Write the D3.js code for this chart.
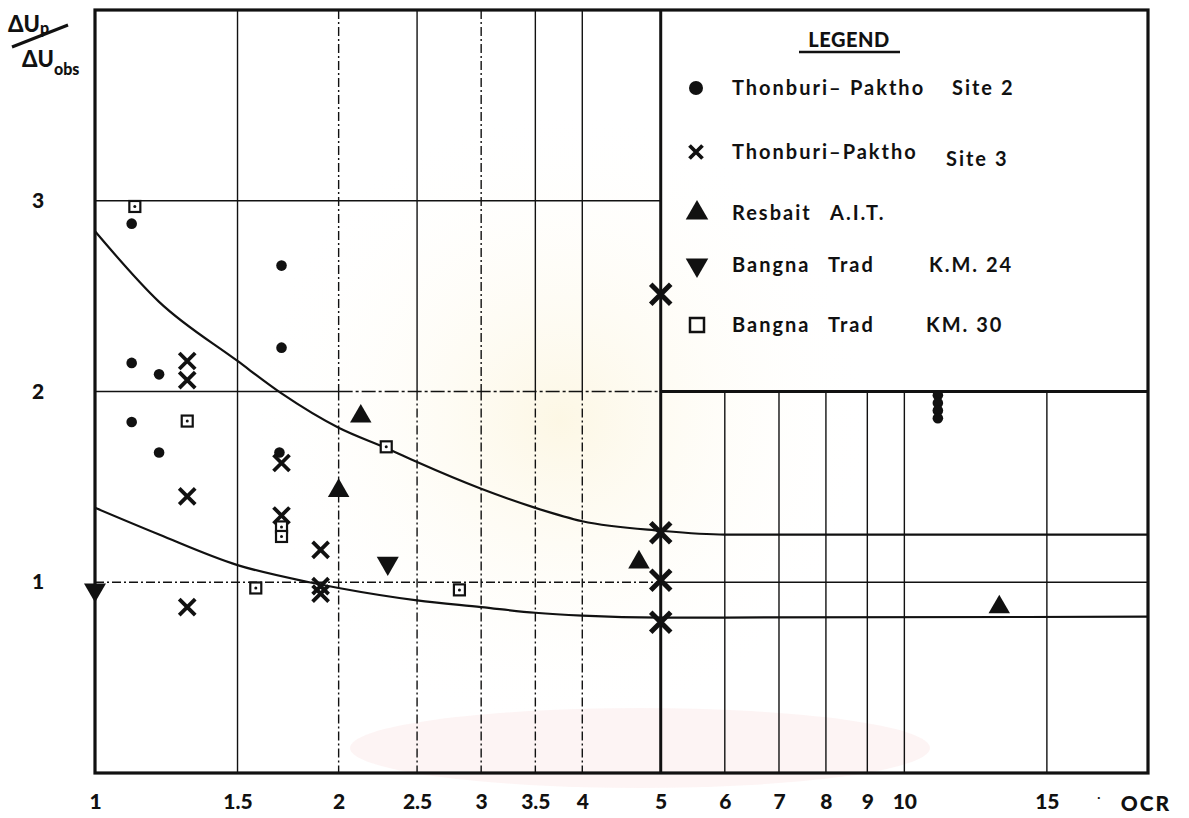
<!DOCTYPE html>
<html>
<head>
<meta charset="utf-8">
<script src="https://cdn.jsdelivr.net/npm/d3@7"></script>
<style>
  body { margin: 0; background: #fff; }
  svg { display: block; font-family: Lato, "DejaVu Sans", sans-serif; }
</style>
</head>
<body>
<svg id="chart" width="1189" height="818"></svg>
<script>
// OCR tick values (log axis) and y ticks
const xTicks = [1, 1.5, 2, 2.5, 3, 3.5, 4, 5, 6, 7, 8, 9, 10, 15]
const yTicks = [1, 2, 3]

// data points [OCR, dUp/dUobs]
const site2 = [[1.11, 2.88], [1.11, 2.15], [1.11, 1.84], [1.2, 2.09], [1.2, 1.68],
  [1.7, 2.66], [1.7, 2.23], [1.69, 1.68], [11, 1.98], [11, 1.94], [11, 1.9], [11, 1.86]]
const site3 = [[1.3, 2.16], [1.3, 2.06], [1.3, 1.45], [1.3, 0.87], [1.7, 1.625], [1.7, 1.35],
  [1.9, 1.17], [1.9, 0.98], [1.9, 0.94], [5, 2.51], [5, 1.26], [5, 1.01], [5, 0.79]]
const resbait = [[2.0, 1.48], [2.13, 1.87], [4.7, 1.105], [13.1, 0.87]]
const km24 = [[1.0, 0.96], [2.3, 1.1]]
const km30 = [[1.12, 2.97], [1.3, 1.845], [1.7, 1.29], [1.7, 1.24], [1.58, 0.97], [2.29, 1.71], [2.82, 0.96]]

// fitted envelope curves
const upperCurve = [[1, 2.84], [1.2, 2.47], [1.5, 2.16], [1.7, 1.99], [2, 1.81], [2.3, 1.7], [2.5, 1.63],
  [3, 1.49], [3.5, 1.39], [4, 1.32], [5, 1.27], [6, 1.25], [20, 1.25]]
const lowerCurve = [[1, 1.39], [1.2, 1.25], [1.5, 1.09], [1.84, 1.0], [2, 0.97], [2.5, 0.905], [3, 0.87],
  [3.5, 0.84], [4, 0.825], [5, 0.815], [6, 0.815], [20, 0.82]]

// legend words, per row
const legendRows = [
  ["Thonburi\u2013", "Paktho", "Site 2"],
  ["Thonburi\u2013Paktho", "", "Site 3"],
  ["Resbait", "A.I.T.", ""],
  ["Bangna", "Trad", "K.M. 24"],
  ["Bangna", "Trad", "KM. 30"]
]

const pL = 95, pR = 1148, pT = 10, pB = 773
const ink = "#111"

const svg = d3.select("#chart")

const x = d3.scaleLog().domain([1, 20]).range([pL, pR])
const y = d3.scaleLinear().domain([0, 4]).range([pB, pT])

// faint watermark of the scanned page
const defs = svg.append("defs")
const rg = defs.append("radialGradient").attr("id", "wm")
rg.append("stop").attr("offset", "0%").attr("stop-color", "#fcf5de").attr("stop-opacity", 0.8)
rg.append("stop").attr("offset", "100%").attr("stop-color", "#fff").attr("stop-opacity", 0)
svg.append("circle").attr("cx", 560).attr("cy", 420).attr("r", 320).attr("fill", "url(#wm)")
svg.append("ellipse").attr("cx", 640).attr("cy", 748).attr("rx", 290).attr("ry", 40)
  .attr("fill", "#fcf0f0").attr("opacity", 0.7)

const grid = svg.append("g").attr("stroke", ink).attr("fill", "none")

// vertical grid lines, split at y = 2 (legend box bottom)
const dashDot = "9,3,2,3"
xTicks.slice(1).forEach(v => {
  const gx = x(v)
  if (v === 5) {
    grid.append("line").attr("x1", gx).attr("x2", gx).attr("y1", pT).attr("y2", pB).attr("stroke-width", 3)
    return
  }
  if (v < 5) {
    grid.append("line").attr("x1", gx).attr("x2", gx).attr("y1", pT).attr("y2", y(2))
      .attr("stroke-width", 1.4)
      .attr("stroke-dasharray", (v === 2 || v === 3) ? dashDot : null)
  }
  grid.append("line").attr("x1", gx).attr("x2", gx).attr("y1", y(2)).attr("y2", pB)
    .attr("stroke-width", 1.4)
    .attr("stroke-dasharray", v === 1.5 ? null : (v < 5 ? dashDot : null))
})

// horizontal grid lines
grid.append("line").attr("x1", pL).attr("x2", x(5)).attr("y1", y(3)).attr("y2", y(3)).attr("stroke-width", 1.6)
grid.append("line").attr("x1", pL).attr("x2", x(2)).attr("y1", y(2)).attr("y2", y(2)).attr("stroke-width", 1.6)
grid.append("line").attr("x1", x(2)).attr("x2", x(5)).attr("y1", y(2)).attr("y2", y(2)).attr("stroke-width", 1.6)
  .attr("stroke-dasharray", "14,3,3,3")
grid.append("line").attr("x1", x(5)).attr("x2", pR).attr("y1", y(2)).attr("y2", y(2)).attr("stroke-width", 3)
grid.append("line").attr("x1", pL).attr("x2", x(5)).attr("y1", y(1)).attr("y2", y(1)).attr("stroke-width", 1.5)
  .attr("stroke-dasharray", dashDot)
grid.append("line").attr("x1", x(5)).attr("x2", pR).attr("y1", y(1)).attr("y2", y(1)).attr("stroke-width", 1.6)

// frame
svg.append("rect").attr("x", pL).attr("y", pT).attr("width", pR - pL).attr("height", pB - pT)
  .attr("fill", "none").attr("stroke", ink).attr("stroke-width", 3.2)

// curves
const line = d3.line().x(d => x(d[0])).y(d => y(d[1])).curve(d3.curveMonotoneX)
svg.append("path").datum(upperCurve).attr("d", line).attr("fill", "none").attr("stroke", ink).attr("stroke-width", 2.2)
svg.append("path").datum(lowerCurve).attr("d", line).attr("fill", "none").attr("stroke", ink).attr("stroke-width", 2.2)

// axis labels
const xAxis = d3.axisBottom(x).tickValues(xTicks).tickFormat(d3.format("")).tickSize(0).tickPadding(21)
const gxa = svg.append("g").attr("transform", `translate(0,${pB})`).call(xAxis)
gxa.select(".domain").remove()
gxa.selectAll("text").attr("font-size", 21).attr("font-weight", 900).attr("fill", ink)
  .attr("font-family", "Lato, sans-serif")

svg.append("text").attr("x", 1146).attr("y", 811).attr("text-anchor", "middle")
  .attr("font-size", 21).attr("font-weight", 900).attr("fill", ink).attr("letter-spacing", 2).text("OCR")
svg.append("text").attr("x", 1097).attr("y", 802).attr("font-size", 14).attr("fill", ink).text("\u00b7")

const yAxis = d3.axisLeft(y).tickValues(yTicks).tickFormat(d3.format("d")).tickSize(0).tickPadding(57)
const gya = svg.append("g").attr("transform", `translate(${pL},0)`).call(yAxis)
gya.select(".domain").remove()
gya.selectAll("text").attr("font-size", 21).attr("font-weight", 900).attr("fill", ink)
  .attr("font-family", "Lato, sans-serif").attr("text-anchor", "middle")

// y label: dUp / dUobs
const yl = svg.append("g").attr("fill", ink).attr("font-weight", 900)
const t1 = yl.append("text").attr("x", 8).attr("y", 32).attr("font-size", 22)
t1.append("tspan").text("\u0394U")
t1.append("tspan").attr("font-size", 16).attr("dy", 2).text("p")
yl.append("line").attr("x1", 12).attr("y1", 47).attr("x2", 68).attr("y2", 25).attr("stroke", ink).attr("stroke-width", 3)
const t2 = yl.append("text").attr("x", 22).attr("y", 67).attr("font-size", 22)
t2.append("tspan").text("\u0394U")
t2.append("tspan").attr("font-size", 16).attr("dy", 8).text("obs")
svg.append("rect").attr("x", pL + 2).attr("y", 50).attr("width", 14).attr("height", 40).attr("fill", "#fff")

// markers
const marks = svg.append("g")
const tri = d3.symbol().type(d3.symbolTriangle)

function drawX(g, cx, cy, h, w) {
  g.append("path").attr("d", `M${cx - h},${cy - h}L${cx + h},${cy + h}M${cx - h},${cy + h}L${cx + h},${cy - h}`)
    .attr("stroke", ink).attr("stroke-width", w).attr("fill", "none")
}

marks.selectAll(".s2").data(site2).join("circle").attr("class", "s2")
  .attr("cx", d => x(d[0])).attr("cy", d => y(d[1])).attr("r", 5.3).attr("fill", ink)

site3.forEach(d => {
  const big = d[0] >= 5
  drawX(marks, x(d[0]), y(d[1]), big ? 10 : 8, big ? 5 : 3.8)
})

marks.selectAll(".rb").data(resbait).join("path").attr("class", "rb")
  .attr("d", tri.size(200)).attr("transform", d => `translate(${x(d[0])},${y(d[1])})`).attr("fill", ink)

marks.selectAll(".k24").data(km24).join("path").attr("class", "k24")
  .attr("d", tri.size(210)).attr("transform", d => `translate(${x(d[0])},${y(d[1])}) rotate(180)`).attr("fill", ink)

const sq = marks.selectAll(".k30").data(km30).join("g").attr("class", "k30")
  .attr("transform", d => `translate(${x(d[0])},${y(d[1])})`)
sq.append("rect").attr("x", -5.5).attr("y", -5.5).attr("width", 11).attr("height", 11)
  .attr("fill", "#fff").attr("stroke", ink).attr("stroke-width", 2.2)
sq.append("circle").attr("r", 1.5).attr("fill", ink)

// legend
const lg = svg.append("g").attr("fill", ink)
lg.append("text").attr("x", 849).attr("y", 47).attr("text-anchor", "middle").attr("font-size", 20)
  .attr("font-weight", 900).attr("letter-spacing", 0.5).text("LEGEND")
lg.append("line").attr("x1", 799).attr("x2", 900).attr("y1", 52).attr("y2", 52).attr("stroke", ink).attr("stroke-width", 2.5)

const rowY = [88, 152, 213, 265, 325]
const colX = [[732, 850, 952], [732, 0, 946], [732, 830, 0], [732, 828, 929], [732, 828, 926]]
legendRows.forEach((r, i) => {
  r.forEach((w, j) => {
    if (!w) return
    lg.append("text").attr("x", colX[i][j]).attr("y", rowY[i] + 7 + (i === 1 && j === 2 ? 7 : 0))
      .attr("font-size", 20).attr("font-weight", 700).attr("letter-spacing", 2).text(w)
  })
})
lg.append("circle").attr("cx", 696).attr("cy", rowY[0]).attr("r", 7)
drawX(lg, 696, rowY[1], 6.5, 3.8)
lg.append("path").attr("d", tri.size(220)).attr("transform", `translate(697,${rowY[2]})`)
lg.append("path").attr("d", tri.size(220)).attr("transform", `translate(697,${rowY[3]}) rotate(180)`)
lg.append("rect").attr("x", 690).attr("y", rowY[4] - 7).attr("width", 14).attr("height", 14)
  .attr("fill", "none").attr("stroke", ink).attr("stroke-width", 2.5)
</script>
</body>
</html>
